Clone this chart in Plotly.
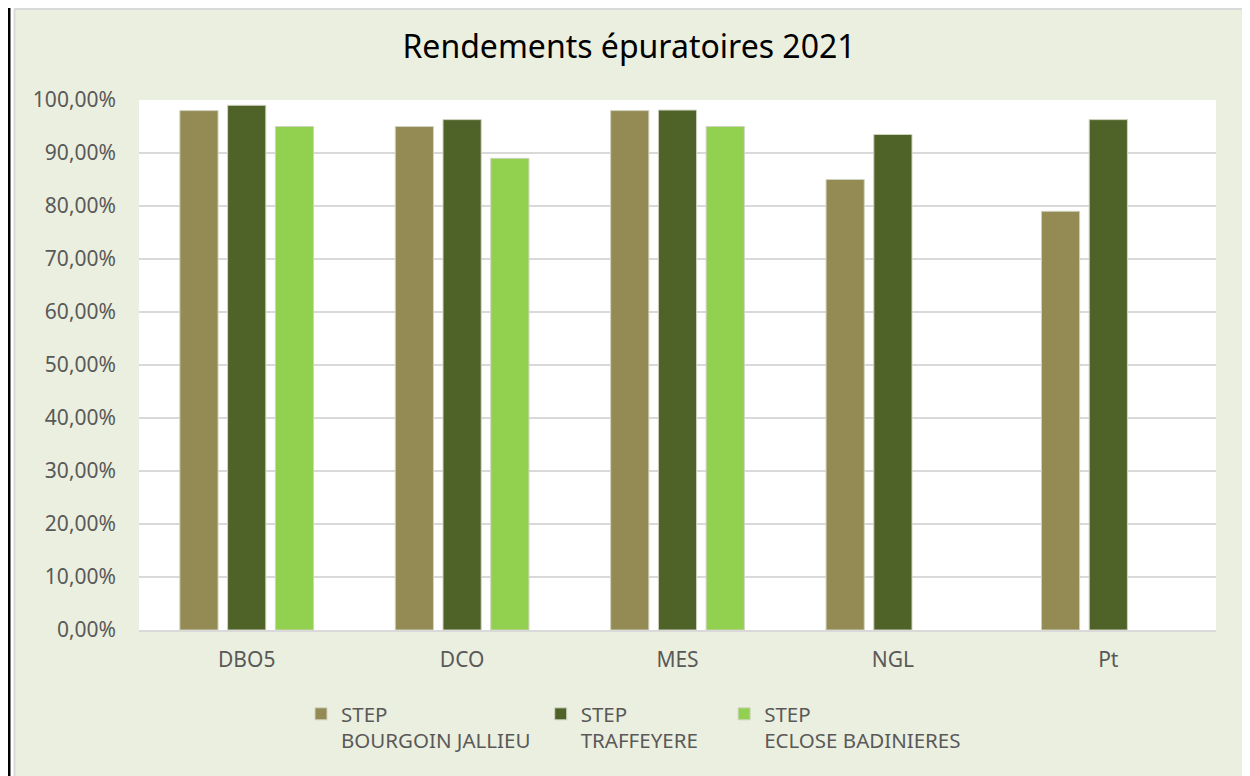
import plotly.graph_objects as go

# Data
parametres = ["DBO5", "DCO", "MES", "NGL", "Pt"]
bourgoin = [0.98, 0.95, 0.98, 0.85, 0.79]
traffeyere = [0.99, 0.963, 0.981, 0.935, 0.963]
eclose = [0.95, 0.89, 0.95, None, None]

noms = ["STEP<br>BOURGOIN JALLIEU\u00a0",
        "STEP<br>TRAFFEYERE\u00a0\u00a0\u00a0\u00a0",
        "STEP<br>ECLOSE BADINIERES"]
couleurs = ["#948A54", "#4F6228", "#92D050"]
tick_vals = [i / 10 for i in range(11)]
tick_text = ["%d,00%%" % (v * 10) for v in range(11)]

# the page has an 8px body margin, so positions below are page px - 8
OFF = 8
W, H = 1250 - OFF, 776 - OFF
ML, MR, MT, MB = 139 - OFF, W - (1216 - OFF), 100 - OFF, H - (630 - OFF)
pw = W - ML - MR
ph = H - MT - MB


def px_x(p):
    return (p - OFF - ML) / pw


def px_y(p):
    return (H - MB - (p - OFF)) / ph


fig = go.Figure()
for nom, vals, c in zip(noms, [bourgoin, traffeyere, eclose], couleurs):
    fig.add_trace(go.Bar(
        x=parametres, y=vals, name=nom,
        marker=dict(color=c, line=dict(color="#D0D3C0", width=1)),
    ))

bg = "#EBEFDF"
fig.update_layout(
    width=W, height=H,
    margin=dict(l=ML, r=MR, t=MT, b=MB),
    paper_bgcolor=bg,
    plot_bgcolor="white",
    barmode="group",
    bargap=0.335,
    bargroupgap=0.2,
    font=dict(family="Noto Sans", color="#595959", size=21),
    title=dict(text="Rendements épuratoires 2021", x=0.5, xanchor="center",
               xref="container", yref="container",
               y=1 - (47 - OFF) / H, yanchor="middle",
               font=dict(size=32, color="#000000")),
    showlegend=True,
    legend=dict(orientation="h", x=px_x(301), xanchor="left",
                y=px_y(694), yanchor="top", valign="top",
                bgcolor="rgba(0,0,0,0)", font=dict(size=20.5, color="#595959"),
                itemwidth=30, traceorder="normal", tracegroupgap=0),
    xaxis=dict(showgrid=False, ticks="", showline=True, linecolor="#D9D9D9",
               linewidth=1.5, tickfont=dict(size=21), ticklabelstandoff=10),
    yaxis=dict(range=[0, 1], tickvals=tick_vals, ticktext=tick_text,
               showgrid=True, gridcolor="#D9D9D9", gridwidth=1.5,
               zeroline=False, ticks="", ticklabelstandoff=22,
               tickfont=dict(size=21)),
)

# cadre de la zone graphique
fig.add_shape(type="rect", xref="paper", yref="paper",
              x0=px_x(0), x1=px_x(14), y0=px_y(H + 20), y1=px_y(0),
              fillcolor="white", line_width=0, layer="below")
fig.add_shape(type="rect", xref="paper", yref="paper",
              x0=px_x(7), x1=px_x(10.5), y0=px_y(H + 20), y1=px_y(0),
              fillcolor="black", line_width=0, layer="below")
fig.add_shape(type="rect", xref="paper", yref="paper",
              x0=px_x(1245), x1=px_x(W + 20), y0=px_y(H + 20), y1=px_y(0),
              fillcolor="white", line_width=0, layer="below")
fig.add_shape(type="line", xref="paper", yref="paper",
              x0=px_x(14.5), x1=px_x(14.5), y0=px_y(H + 20), y1=px_y(9),
              line=dict(color="#D9D9D9", width=2), layer="below")
fig.add_shape(type="line", xref="paper", yref="paper",
              x0=px_x(14.5), x1=px_x(1244.5), y0=px_y(9), y1=px_y(9),
              line=dict(color="#D9D9D9", width=2), layer="below")
fig.add_shape(type="line", xref="paper", yref="paper",
              x0=px_x(1244.5), x1=px_x(1244.5), y0=px_y(H + 20), y1=px_y(9),
              line=dict(color="#D9D9D9", width=2), layer="below")

fig.write_html("out.html")
